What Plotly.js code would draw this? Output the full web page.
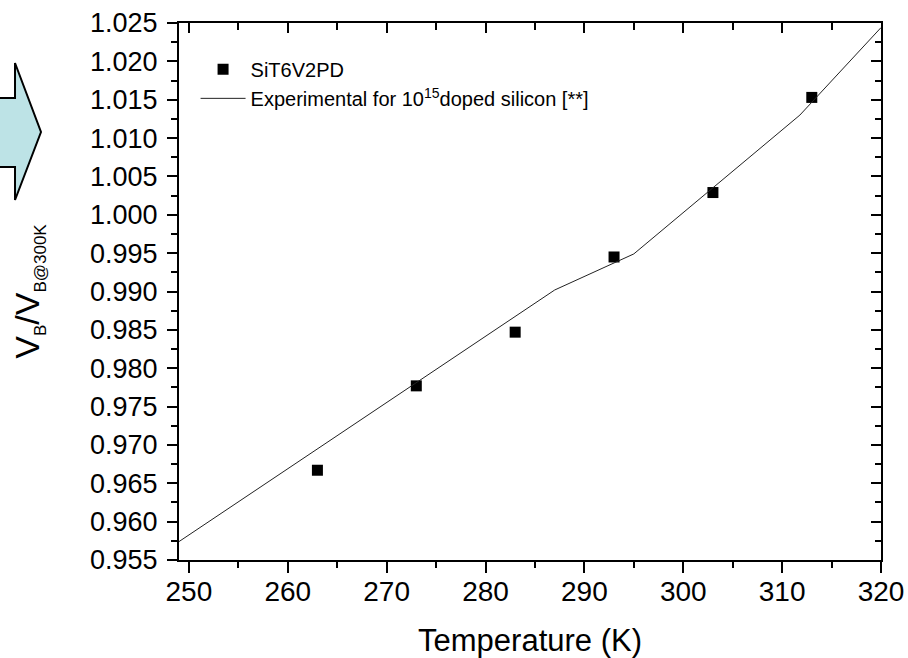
<!DOCTYPE html>
<html>
<head>
<meta charset="utf-8">
<script src="https://cdn.plot.ly/plotly-3.0.1.min.js"></script>
<style>html,body{margin:0;padding:0;background:#fff;}#chart{width:908px;height:658px;}</style>
</head>
<body>
<div id="chart"></div>
<script>
// Data
var simTemp = [263, 273, 283, 293, 303, 313];
var simRatio = [0.9667, 0.9777, 0.9847, 0.9945, 1.0029, 1.0153];
var expTemp = [249, 287, 295, 311.8, 320];
var expRatio = [0.9574, 0.9902, 0.9949, 1.0130, 1.0244];
var xTicks = [250, 260, 270, 280, 290, 300, 310, 320];
var yTicks = [0.955, 0.960, 0.965, 0.970, 0.975, 0.980, 0.985, 0.990, 0.995, 1.000, 1.005, 1.010, 1.015, 1.020, 1.025];
var yTickText = yTicks.map(function(v){ return v.toFixed(3); });

var font = 'Arial, "Liberation Sans", sans-serif';

var traces = [
  {x: simTemp, y: simRatio, type: 'scatter', mode: 'markers', name: 'SiT6V2PD',
   marker: {symbol: 'square', size: 11, color: '#000'}},
  {x: expTemp, y: expRatio, type: 'scatter', mode: 'lines',
   name: 'Experimental for 10<sup>15</sup>doped silicon [**]',
   line: {color: '#222', width: 1}}
];

// arrow outline in pixels -> paper coords
var L = 179, W = 702, B = 560, H = 537;
function px(x){ return ((x - L) / W).toFixed(4); }
function py(y){ return ((B - y) / H).toFixed(4); }
var arrowPts = [[-5,98],[15,98],[15,63],[41,132],[15,200],[15,167],[-5,167]];
var arrowPath = 'M' + arrowPts.map(function(p){ return px(p[0]) + ',' + py(p[1]); }).join('L') + 'Z';

var layout = {
  width: 908, height: 658,
  margin: {l: 179, r: 27, t: 23, b: 98},
  paper_bgcolor: '#fff', plot_bgcolor: '#fff',
  font: {family: font, color: '#000'},
  showlegend: true,
  legend: {x: 0.0236, y: 0.950, xanchor: 'left', yanchor: 'top', bgcolor: 'rgba(0,0,0,0)',
           font: {size: 20, family: font}, itemwidth: 45, tracegroupgap: 0},
  xaxis: {range: [249, 320], tickvals: xTicks, ticks: 'outside', ticklen: 11, tickwidth: 2,
          tickcolor: '#000', showline: true, linecolor: '#000', linewidth: 2, showgrid: false,
          zeroline: false, tickfont: {size: 28, family: font}, ticklabelstandoff: -6,
          minor: {dtick: 5, tick0: 250, ticks: 'outside', ticklen: 6, tickwidth: 2, tickcolor: '#000', showgrid: false},
          title: {text: 'Temperature (K)', font: {size: 31, family: font}, standoff: 24}},
  yaxis: {range: [0.955, 1.025], tickvals: yTicks, ticktext: yTickText, ticks: 'outside', ticklen: 10, tickwidth: 2,
          tickcolor: '#000', showline: true, linecolor: '#000', linewidth: 2, showgrid: false,
          zeroline: false, tickfont: {size: 27, family: font}, ticklabelstandoff: 4,
          minor: {dtick: 0.0025, tick0: 0.955, ticks: 'outside', ticklen: 6, tickwidth: 2, tickcolor: '#000', showgrid: false},
          title: {text: 'V<sub><span style="font-size:17px">B</span></sub>/V<sub><span style="font-size:17px">B@300K</span></sub>',
                  font: {size: 34, family: font}, standoff: 40}},
  xaxis2: {overlaying: 'x', side: 'top', range: [249, 320], tickvals: xTicks, ticks: 'inside', ticklen: 10, tickwidth: 2,
           tickcolor: '#000', showline: true, linecolor: '#000', linewidth: 2, showgrid: false, zeroline: false,
           showticklabels: false,
           minor: {dtick: 5, tick0: 250, ticks: 'inside', ticklen: 7, tickwidth: 2, tickcolor: '#000', showgrid: false}},
  yaxis2: {overlaying: 'y', side: 'right', range: [0.955, 1.025], tickvals: yTicks, ticks: 'inside', ticklen: 10, tickwidth: 2,
           tickcolor: '#000', showline: true, linecolor: '#000', linewidth: 2, showgrid: false, zeroline: false,
           showticklabels: false,
           minor: {dtick: 0.0025, tick0: 0.955, ticks: 'inside', ticklen: 6, tickwidth: 2, tickcolor: '#000', showgrid: false}},
  shapes: [{type: 'path', xref: 'paper', yref: 'paper', path: arrowPath,
            fillcolor: '#bde3e6', line: {color: '#000', width: 2}}]
};

// invisible trace to anchor the mirror axes
traces.push({x: [249], y: [0.955], xaxis: 'x2', yaxis: 'y2', mode: 'markers', marker: {opacity: 0}, showlegend: false, hoverinfo: 'skip'});

Plotly.newPlot('chart', traces, layout, {displayModeBar: false, staticPlot: true});
</script>
</body>
</html>
